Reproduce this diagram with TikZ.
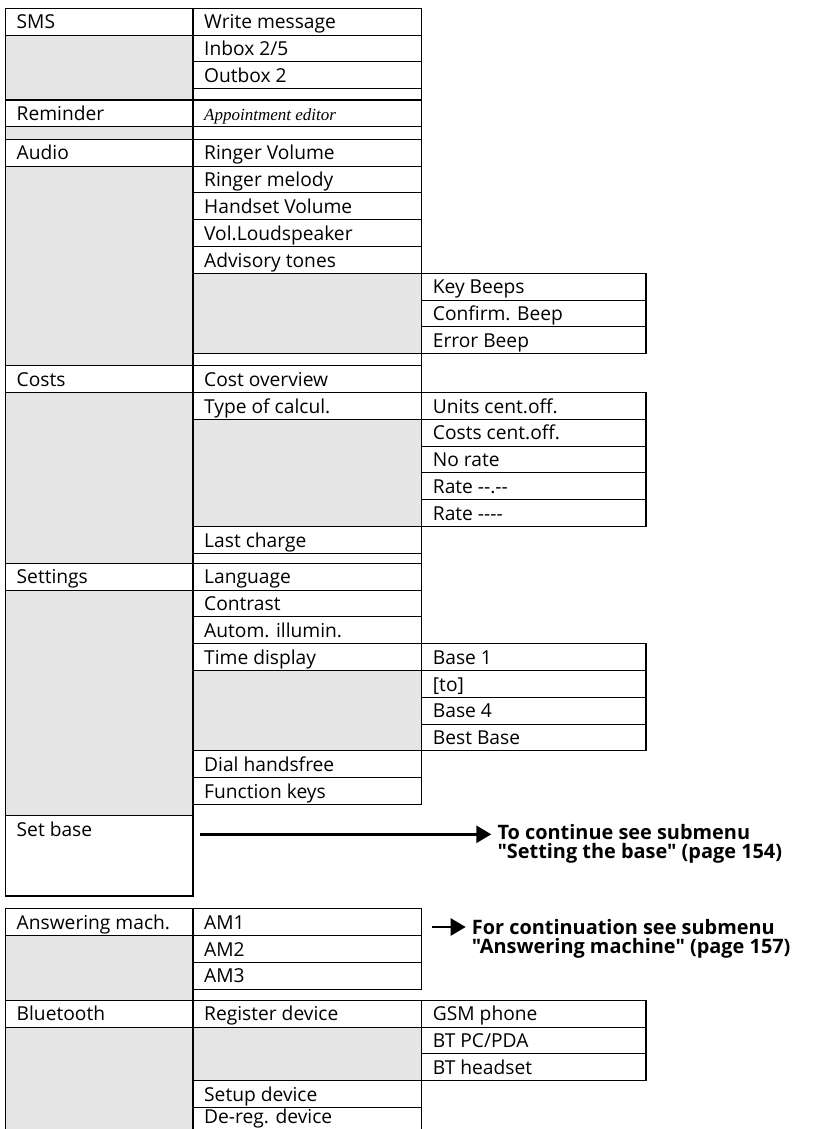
\documentclass[tikz,border=0pt]{standalone}
\usepackage{fontspec}
\setmainfont{Open Sans}[Ligatures=TeXOff]
\newfontfamily\apptfont{Liberation Serif}
\usetikzlibrary{arrows.meta}
\definecolor{menugray}{gray}{0.9}

\begin{document}
\begin{tikzpicture}[
  x=1pt, y=-1pt,
  font=\fontsize{19.2}{21}\selectfont,
  box/.style={draw=black, line width=1.1pt},
  shade/.style={box, fill=menugray},
  item/.style={anchor=base west, inner sep=0pt},
  note/.style={anchor=north west, inner sep=0pt, align=left, font=\fontsize{19.9}{18.4}\selectfont\bfseries},
  jump/.style={line width=2.6pt, -{Triangle[length=15pt, width=17pt]}, shorten >=6pt}
]
\useasboundingbox (0,0) rectangle (815,1129);

\def\xa{5.5}
\def\xb{193}
\def\xc{421.7}
\def\xd{646}
\def\rh{26.8}
\def\padx{11}
\def\pady{20.5}

% SMS
\draw[box] (\xa,8.3) rectangle (\xb,8.3+\rh);
\draw[shade] (\xa,8.3+\rh) rectangle (\xb,100);
\node[item] (sms) at (\xa+\padx,8.3+\pady) {SMS};
\foreach \lbl [count=\i from 0] in {Write message,Inbox 2/5,Outbox 2} {
  \draw[box] (\xb,8.3+\i*\rh) rectangle (\xc,8.3+\i*\rh+\rh);
  \node[item] (sms-\i) at (\xb+\padx,8.3+\i*\rh+\pady) {\lbl};
}
\draw[box] (\xb,8.3+3*\rh) rectangle (\xc,100);

% Reminder
\draw[box] (\xa,100) rectangle (\xb,100+\rh);
\draw[shade] (\xa,100+\rh) rectangle (\xb,139.3);
\node[item] (reminder) at (\xa+\padx,100+\pady) {Reminder};
\draw[box] (\xb,100) rectangle (\xc,100+\rh);
\draw[box] (\xb,100+\rh) rectangle (\xc,139.3);
\node[item, font={\apptfont\itshape\fontsize{17}{20}\selectfont}] (appt) at (\xb+\padx,100+\pady) {Appointment editor};

% Audio
\draw[box] (\xa,139.3) rectangle (\xb,139.3+\rh);
\draw[shade] (\xa,139.3+\rh) rectangle (\xb,365.7);
\node[item] (audio) at (\xa+\padx,139.3+\pady) {Audio};
\foreach \lbl [count=\i from 0] in {Ringer Volume,Ringer melody,Handset Volume,Vol.Loudspeaker,Advisory tones} {
  \draw[box] (\xb,139.3+\i*\rh) rectangle (\xc,139.3+\i*\rh+\rh);
  \node[item] (audio-\i) at (\xb+\padx,139.3+\i*\rh+\pady) {\lbl};
}
\draw[shade] (\xb,139.3+5*\rh) rectangle (\xc,139.3+8*\rh);
\foreach \lbl [count=\i from 5] in {Key Beeps,Confirm. Beep,Error Beep} {
  \draw[box] (\xc,139.3+\i*\rh) rectangle (\xd,139.3+\i*\rh+\rh);
  \node[item] (tones-\i) at (\xc+\padx,139.3+\i*\rh+\pady) {\lbl};
}
\draw[box] (\xb,139.3+8*\rh) rectangle (\xc,365.7);

% Costs
\draw[box] (\xa,365.7) rectangle (\xb,365.7+\rh);
\draw[shade] (\xa,365.7+\rh) rectangle (\xb,563.3);
\node[item] (costs) at (\xa+\padx,365.7+\pady) {Costs};
\draw[shade] (\xb,365.7+2*\rh) rectangle (\xc,365.7+6*\rh);
\foreach \n/\lbl in {0/Cost overview,1/Type of calcul.,6/Last charge} {
  \draw[box] (\xb,365.7+\n*\rh) rectangle (\xc,365.7+\n*\rh+\rh);
  \node[item] (costs-\n) at (\xb+\padx,365.7+\n*\rh+\pady) {\lbl};
}
\foreach \lbl [count=\i from 1] in {Units cent.off.,Costs cent.off.,No rate,Rate --.--,Rate ----} {
  \draw[box] (\xc,365.7+\i*\rh) rectangle (\xd,365.7+\i*\rh+\rh);
  \node[item] (calc-\i) at (\xc+\padx,365.7+\i*\rh+\pady) {\lbl};
}
\draw[box] (\xb,365.7+7*\rh) rectangle (\xc,563.3);

% Settings
\draw[box] (\xa,563.3) rectangle (\xb,563.3+\rh);
\draw[shade] (\xa,563.3+\rh) rectangle (\xb,815.7);
\node[item] (settings) at (\xa+\padx,563.3+\pady) {Settings};
\draw[shade] (\xb,563.3+4*\rh) rectangle (\xc,563.3+7*\rh);
\foreach \n/\lbl in {0/Language,1/Contrast,2/Autom. illumin.,3/Time display,7/Dial handsfree,8/Function keys} {
  \draw[box] (\xb,563.3+\n*\rh) rectangle (\xc,563.3+\n*\rh+\rh);
  \node[item] (settings-\n) at (\xb+\padx,563.3+\n*\rh+\pady) {\lbl};
}
\foreach \lbl [count=\i from 3] in {Base 1,{[to]},Base 4,Best Base} {
  \draw[box] (\xc,563.3+\i*\rh) rectangle (\xd,563.3+\i*\rh+\rh);
  \node[item] (time-\i) at (\xc+\padx,563.3+\i*\rh+\pady) {\lbl};
}

% Set base
\draw[box] (\xa,815.7) rectangle (\xb,896);
\node[item] (setbase) at (\xa+\padx,815.7+\pady) {Set base};
\coordinate (basefrom) at (200,834.3);
\node[note] (basenote) at (497.3,824.3) {To continue see submenu\\"Setting the base" (page 154)};
\draw[jump] (basefrom) -- (basefrom -| basenote.west);

% Answering machine
\draw[box] (\xa,908.7) rectangle (\xb,908.7+\rh);
\draw[shade] (\xa,908.7+\rh) rectangle (\xb,1000.3);
\node[item] (answering) at (\xa+\padx,908.7+\pady) {Answering mach.};
\foreach \lbl [count=\i from 0] in {AM1,AM2,AM3} {
  \draw[box] (\xb,908.7+\i*\rh) rectangle (\xc,908.7+\i*\rh+\rh);
  \node[item] (am-\i) at (\xb+\padx,908.7+\i*\rh+\pady) {\lbl};
}
\coordinate (amfrom) at (432.3,927);
\node[note] (amnote) at (471.7,919.3) {For continuation see submenu\\"Answering machine" (page 157)};
\draw[jump] (amfrom) -- (amfrom -| amnote.west);

% Bluetooth
\draw[box] (\xa,1000.3) rectangle (\xb,1000.3+\rh);
\draw[shade] (\xa,1000.3+\rh) rectangle (\xb,1000.3+5*\rh);
\node[item] (bluetooth) at (\xa+\padx,1000.3+\pady) {Bluetooth};
\draw[shade] (\xb,1000.3+\rh) rectangle (\xc,1000.3+3*\rh);
\foreach \n/\lbl in {0/Register device,3/Setup device} {
  \draw[box] (\xb,1000.3+\n*\rh) rectangle (\xc,1000.3+\n*\rh+\rh);
  \node[item] (bt-\n) at (\xb+\padx,1000.3+\n*\rh+\pady) {\lbl};
}
\draw[box] (\xb,1000.3+4*\rh) rectangle (\xc,1000.3+5*\rh);
\node[item] (bt-4) at (\xb+\padx,1123.6) {De-reg. device};
\foreach \lbl [count=\i from 0] in {GSM phone,BT PC/PDA,BT headset} {
  \draw[box] (\xc,1000.3+\i*\rh) rectangle (\xd,1000.3+\i*\rh+\rh);
  \node[item] (device-\i) at (\xc+\padx,1000.3+\i*\rh+\pady) {\lbl};
}

\end{tikzpicture}
\end{document}
